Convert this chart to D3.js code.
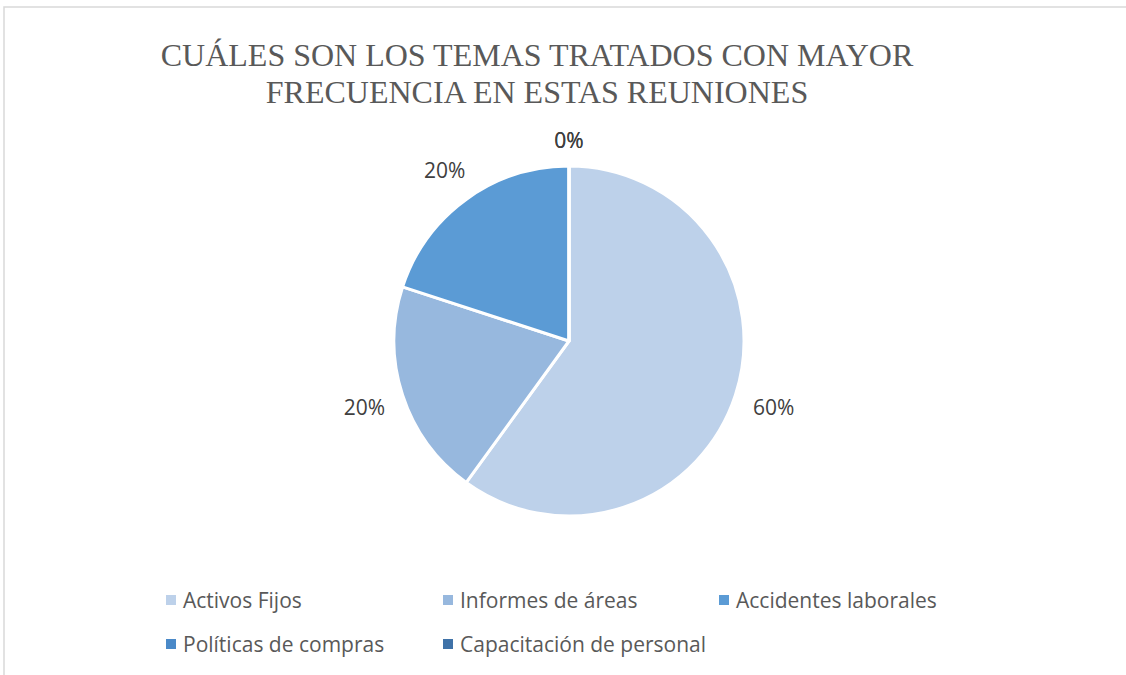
<!DOCTYPE html>
<html>
<head>
<meta charset="utf-8">
<script src="https://cdn.jsdelivr.net/npm/d3@7"></script>
<style>
  html, body { margin: 0; padding: 0; background: #fff; }
  svg { display: block; }
</style>
</head>
<body>
<div id="chart"></div>
<script>
// chart data
var categories = ["Activos Fijos", "Informes de áreas", "Accidentes laborales", "Políticas de compras", "Capacitación de personal"];
var values = [60, 20, 20, 0, 0];
var colors = ["#BDD1EA", "#97B8DE", "#5B9BD5", "#4A89C8", "#3F72A8"];
var titleLines = ["CUÁLES SON LOS TEMAS TRATADOS CON MAYOR", "FRECUENCIA EN ESTAS REUNIONES"];

function drawPie(placement, w, h) {
    var cx = 569, cy = 341, radius = 175, gap = 18;

    var svg = d3.select(placement).append("svg")
        .attr("width", w).attr("height", h);

    // chart area border (only top & left visible in the crop)
    svg.append("rect")
        .attr("x", 4).attr("y", 7)
        .attr("width", w + 20).attr("height", h + 20)
        .attr("fill", "#fff")
        .attr("stroke", "#d9d9d9")
        .attr("stroke-width", 1.5);

    // title
    svg.append("g").selectAll("text")
        .data(titleLines)
        .enter().append("text")
        .attr("x", 537)
        .attr("y", function(d, i) { return 66 + i * 37; })
        .attr("text-anchor", "middle")
        .attr("font-family", "'Liberation Serif', 'Times New Roman', serif")
        .attr("font-size", "32px")
        .attr("fill", "#595959")
        .text(function(d) { return d; });

    var color = d3.scaleOrdinal().domain(categories).range(colors);

    var pie = d3.pie().sort(null).value(function(d) { return d.value; });
    var data = categories.map(function(c, i) { return {name: c, value: values[i]}; });
    var arcs = pie(data);
    var total = d3.sum(values);

    var arc = d3.arc().innerRadius(0).outerRadius(radius);

    var g = svg.append("g").attr("transform", "translate(" + cx + "," + cy + ")");

    g.selectAll("path")
        .data(arcs)
        .enter().append("path")
        .attr("d", arc)
        .attr("fill", function(d) { return color(d.data.name); })
        .attr("stroke", "#fff")
        .attr("stroke-width", 3)
        .attr("stroke-linejoin", "round");

    // data labels, outside end
    var labels = g.selectAll(".lbl")
        .data(arcs)
        .enter().append("text")
        .attr("class", "lbl")
        .attr("font-family", "'Open Sans', 'Liberation Sans', sans-serif")
        .attr("font-size", "21px")
        .attr("fill", "#404040")
        .attr("text-anchor", "middle")
        .attr("dominant-baseline", "central")
        .text(function(d) { return Math.round(d.data.value / total * 100) + "%"; });

    labels.each(function(d) {
        var bw = this.getBBox().width, bh = 16;
        var a = (d.startAngle + d.endAngle) / 2;
        var sx = Math.sin(a), sy = -Math.cos(a);
        var dist = radius + gap + Math.abs(sx) * bw / 2 + Math.abs(sy) * bh / 2;
        d3.select(this).attr("x", dist * sx).attr("y", dist * sy);
    });

    // legend
    var legendPos = [[166, 600], [443, 600], [719, 600], [166, 644], [443, 644]];
    var legend = svg.selectAll(".legend")
        .data(categories)
        .enter().append("g")
        .attr("class", "legend")
        .attr("transform", function(d, i) { return "translate(" + legendPos[i][0] + "," + legendPos[i][1] + ")"; });

    legend.append("rect")
        .attr("x", 0).attr("y", -5)
        .attr("width", 10).attr("height", 10)
        .attr("fill", color);

    legend.append("text")
        .attr("x", 17)
        .attr("y", 0)
        .attr("dominant-baseline", "central")
        .attr("font-family", "'Open Sans', 'Liberation Sans', sans-serif")
        .attr("font-size", "21px")
        .attr("fill", "#595959")
        .text(function(d) { return d; });
}

drawPie("#chart", 1126, 675);
</script>
</body>
</html>
